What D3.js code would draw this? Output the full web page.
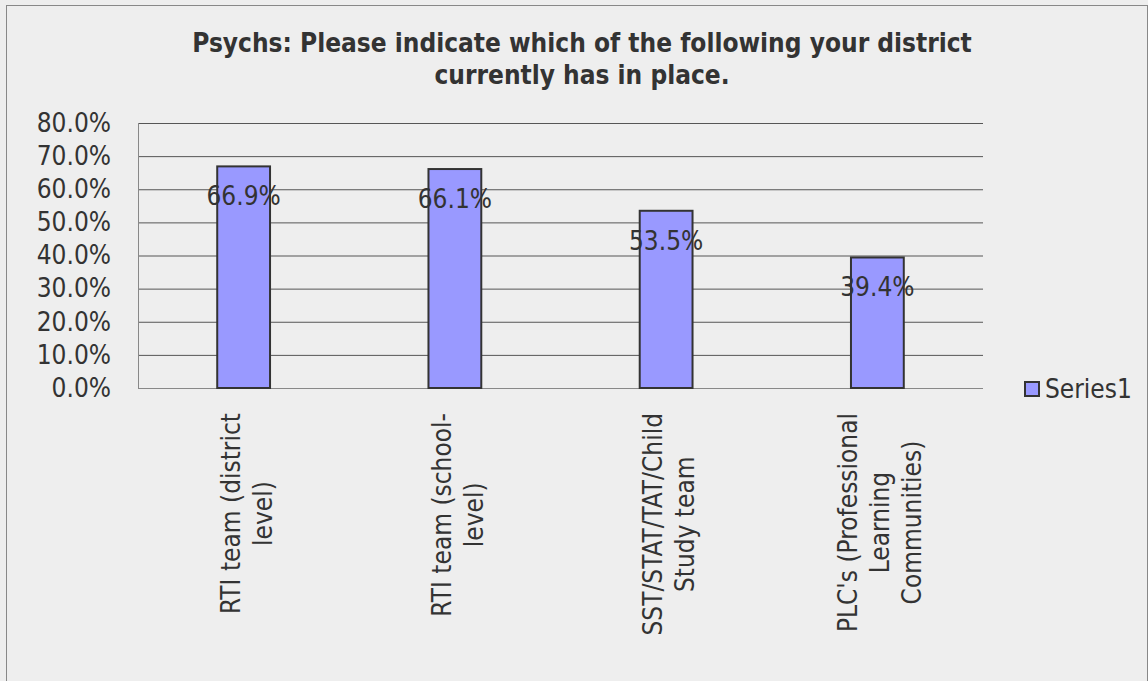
<!DOCTYPE html>
<html><head><meta charset="utf-8">
<script src="https://cdn.jsdelivr.net/npm/d3@7"></script>
<style>
html,body{margin:0;padding:0;background:#eeeeee;}
svg{display:block;}
text{font-family:"DejaVu Sans Condensed","DejaVu Sans",sans-serif;fill:#333;}
</style></head><body>
<svg id="chart" width="1148" height="681"></svg>
<script>
const titleLines = ["Psychs: Please indicate which of the following your district", "currently has in place."];
const categories = [
  ["RTI team (district", "level)"],
  ["RTI team (school-", "level)"],
  ["SST/STAT/TAT/Child", "Study team"],
  ["PLC's (Professional", "Learning", "Communities)"]
];
const values = [0.669, 0.661, 0.535, 0.394];
const valueLabels = ["66.9%", "66.1%", "53.5%", "39.4%"];
const yTicks = [0, 0.1, 0.2, 0.3, 0.4, 0.5, 0.6, 0.7, 0.8];
const seriesName = "Series1";

const FS = "26px";
const svg = d3.select("#chart");
svg.append("rect").attr("x", 6.5).attr("y", 5.5).attr("width", 1141).attr("height", 690)
  .attr("fill", "#eeeeee").attr("stroke", "#888").attr("stroke-width", 1);

const plot = {left: 138, right: 983, top: 123, bottom: 388};
const x = d3.scaleBand().domain(d3.range(values.length)).range([plot.left, plot.right]).padding(0);
const y = d3.scaleLinear().domain([0, 0.8]).range([plot.bottom, plot.top]);
const barW = x.bandwidth() * 0.25;

// title
const title = svg.append("text").attr("text-anchor", "middle")
  .style("font-weight", "bold").style("font-size", FS);
titleLines.forEach((t, i) => title.append("tspan").attr("x", 582).attr("y", 52 + i * 32).text(t));

// gridlines
const grid = svg.append("g").attr("transform", `translate(${plot.left},0)`)
  .call(d3.axisLeft(y).tickValues(yTicks).tickSize(-(plot.right - plot.left)).tickFormat(""));
grid.select(".domain").remove();
grid.selectAll(".tick line").attr("stroke", "#555").attr("stroke-width", 1);

// y labels
const yAxis = svg.append("g").attr("transform", `translate(${plot.left},0)`)
  .call(d3.axisLeft(y).tickValues(yTicks).tickSize(0).tickPadding(27).tickFormat(d3.format(".1%")));
yAxis.select(".domain").remove();
yAxis.selectAll("text").style("font-size", FS).attr("fill", "#333").style("font-family", "DejaVu Sans Condensed, DejaVu Sans, sans-serif");

// axes lines
svg.append("line").attr("x1", plot.left + 0.5).attr("x2", plot.left + 0.5).attr("y1", plot.top).attr("y2", plot.bottom)
  .attr("stroke", "#888");
svg.append("line").attr("x1", plot.left).attr("x2", plot.right).attr("y1", y(0) + 0.5).attr("y2", y(0) + 0.5)
  .attr("stroke", "#888");

// bars
svg.append("g").selectAll("rect").data(values).join("rect")
  .attr("x", (d, i) => x(i) + x.bandwidth() / 2 - barW / 2)
  .attr("y", d => y(d))
  .attr("width", barW)
  .attr("height", d => y(0) - y(d))
  .attr("fill", "#9999ff").attr("stroke", "#333").attr("stroke-width", 2);

// value labels
svg.append("g").selectAll("text").data(values).join("text")
  .attr("x", (d, i) => x(i) + x.bandwidth() / 2)
  .attr("y", d => y(d) + 39)
  .attr("text-anchor", "middle").style("font-size", FS)
  .text((d, i) => valueLabels[i]);

// category labels
const lineH = 32;
categories.forEach((lines, i) => {
  const cx = x(i) + x.bandwidth() / 2;
  const g = svg.append("g");
  const n = lines.length;
  const texts = lines.map((t, j) => g.append("text").style("font-size", FS).attr("text-anchor", "middle").text(t));
  const maxLen = d3.max(texts, t => t.node().getComputedTextLength());
  const cy = 413 + maxLen / 2;
  texts.forEach((t, j) => {
    const bx = cx + (j - (n - 1) / 2) * lineH + 12;
    t.attr("transform", `translate(${bx},${cy}) rotate(-90)`);
  });
});

// legend
svg.append("rect").attr("x", 1025).attr("y", 382).attr("width", 14).attr("height", 14)
  .attr("fill", "#9999ff").attr("stroke", "#333").attr("stroke-width", 2);
svg.append("text").attr("x", 1045).attr("y", 398).style("font-size", FS).text(seriesName);
</script>
</body></html>
